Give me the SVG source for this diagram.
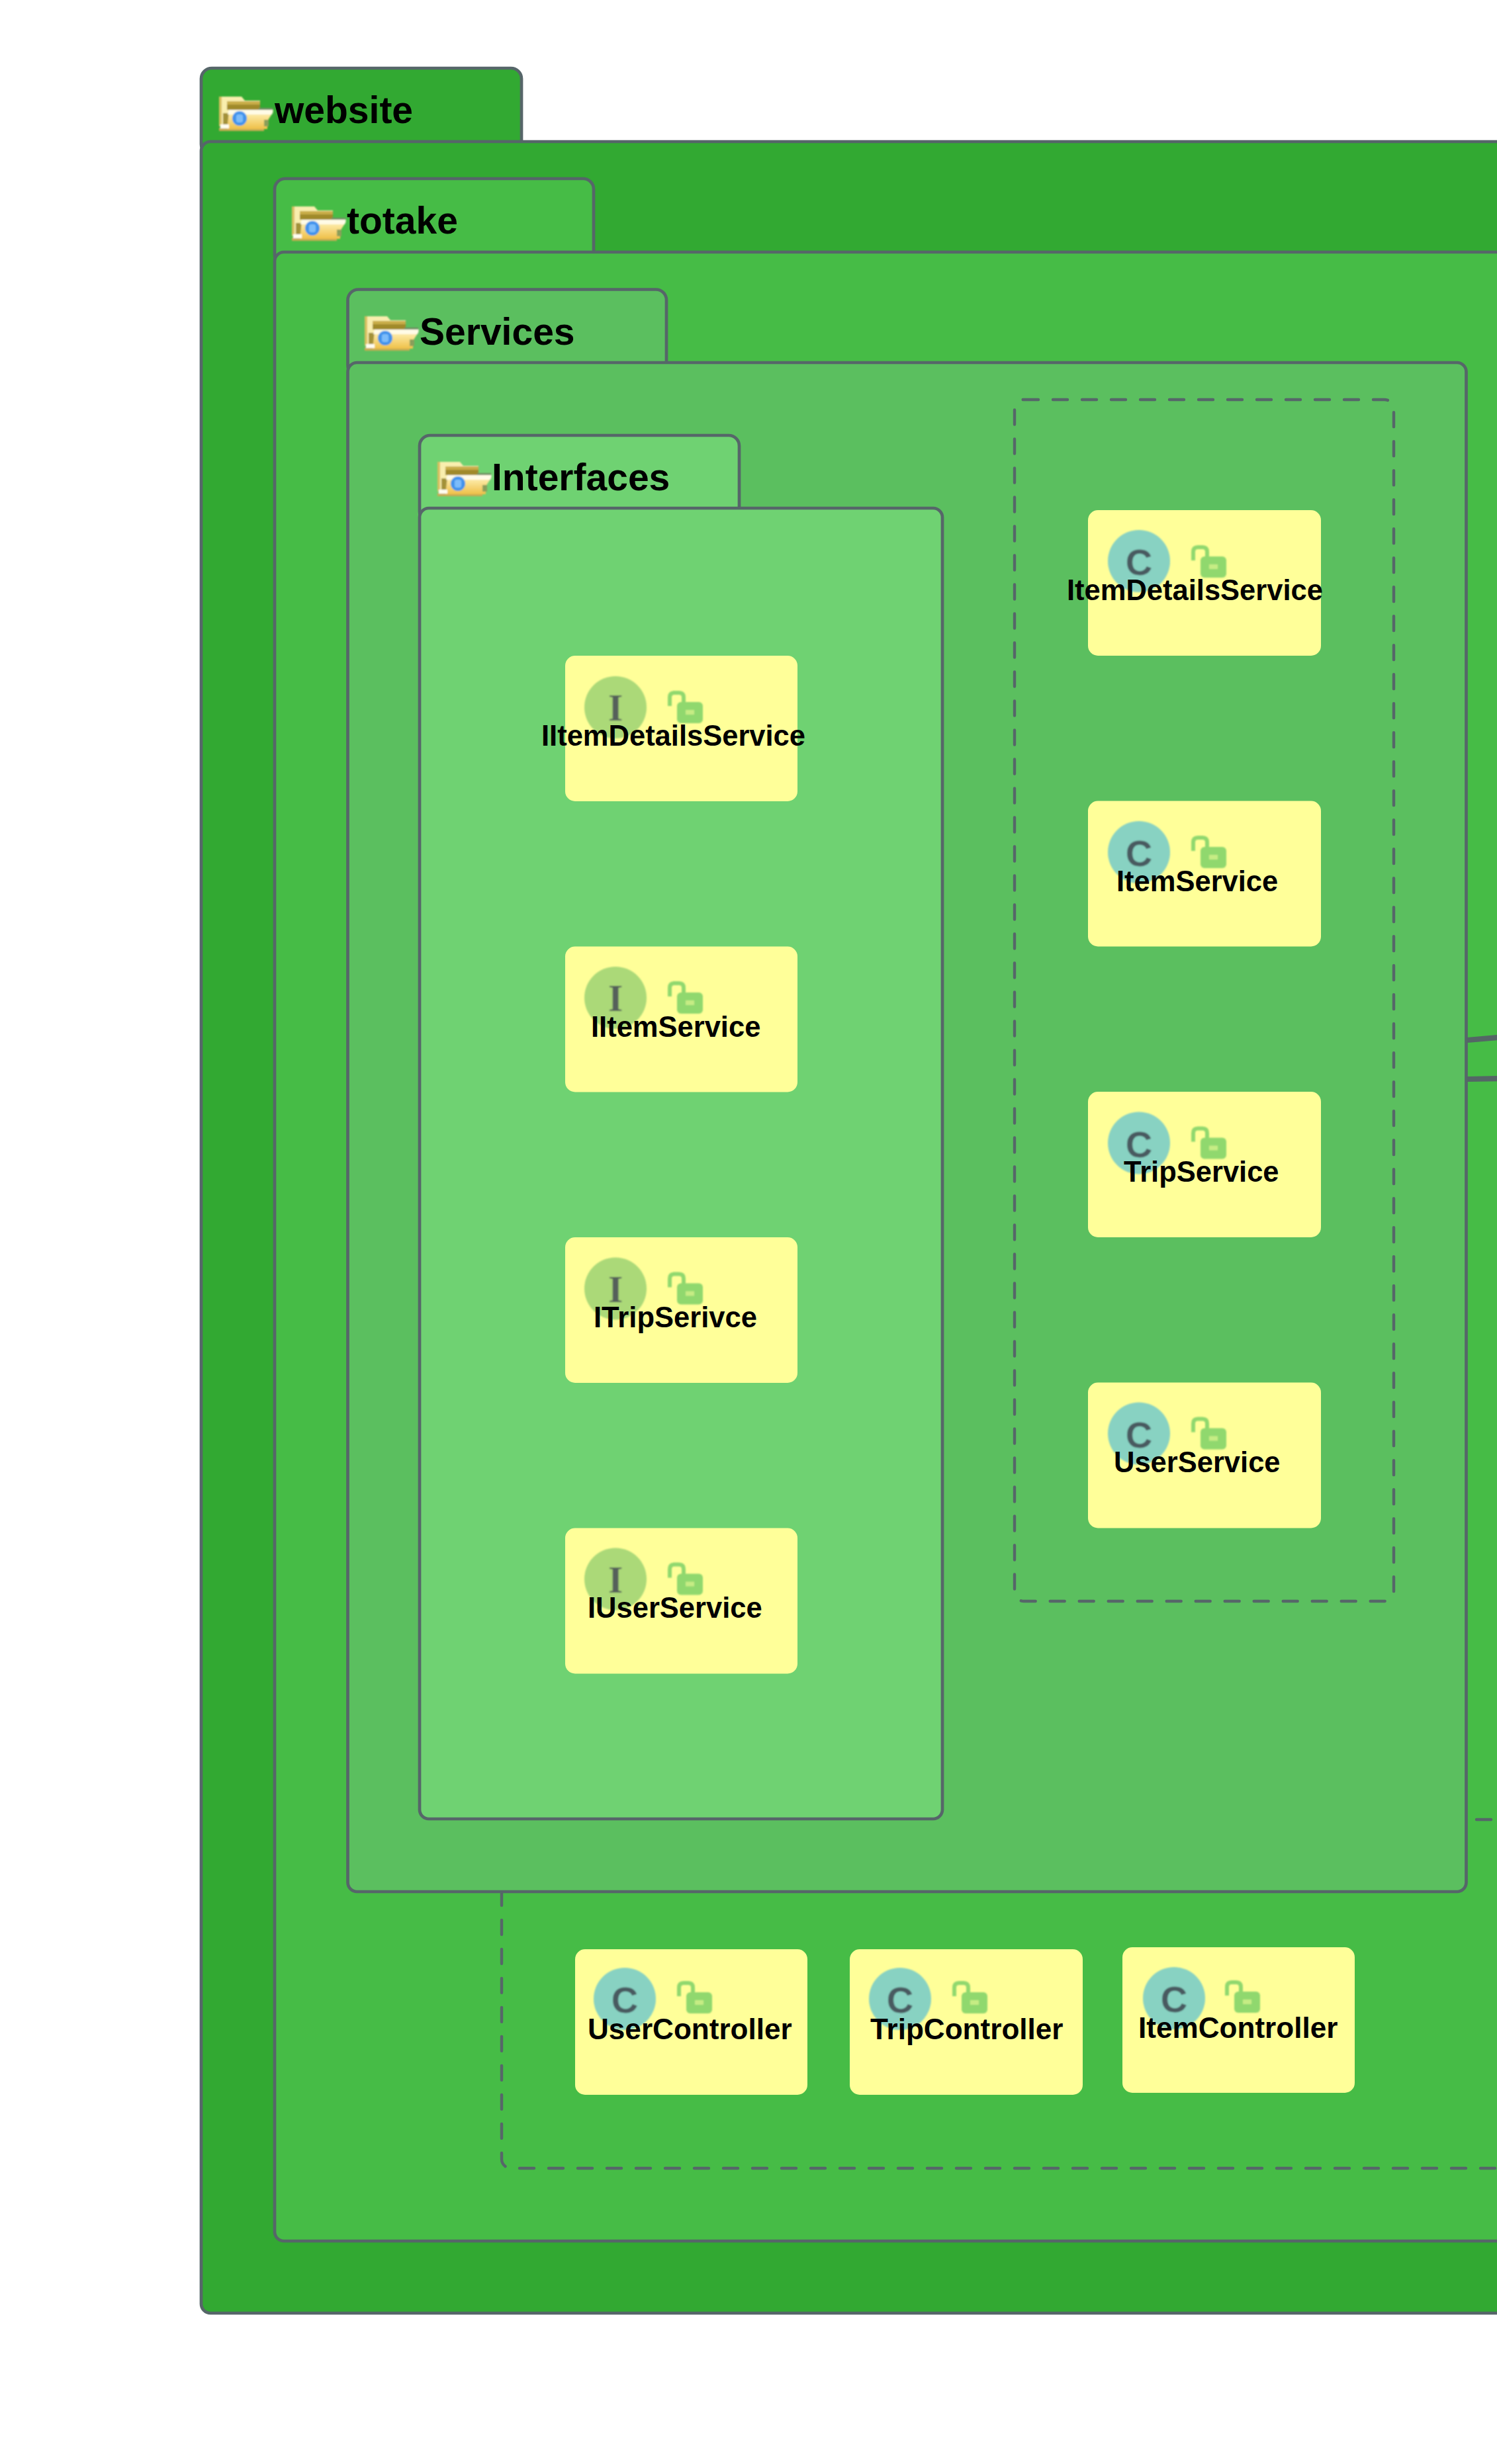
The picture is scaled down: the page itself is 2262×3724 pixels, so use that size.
<svg xmlns="http://www.w3.org/2000/svg" xmlns:xlink="http://www.w3.org/1999/xlink" width="2262" height="3724" viewBox="0 0 2262 3724">
<style>
.pk{stroke:#566669;stroke-width:4.7}
.web{fill:#32a932}.tot{fill:#46bc46}.svc{fill:#5bbf5f}.ifc{fill:#6fd272}
.dash{fill:none;stroke:#566669;stroke-width:4.4;stroke-dasharray:22 22;stroke-linecap:round}
.card{fill:#ffff99}
.circ-i{fill:#abd978}.circ-c{fill:#88d2c2}
.gl-i{font-family:"Liberation Serif",serif;font-weight:700;font-size:57px;fill:#55605a;text-anchor:middle}
.gl-c{font-family:"Liberation Sans",Arial,sans-serif;font-weight:700;font-size:56px;fill:#4a5a60;text-anchor:middle}
.lbl{font-family:"Liberation Sans",Arial,sans-serif;font-weight:700;font-size:43.5px;fill:#000}
.ctl{font-size:44.1px}
.pkl{font-family:"Liberation Sans",Arial,sans-serif;font-weight:700;font-size:57px;fill:#000}
.conn{fill:none;stroke:#546666;stroke-width:8.2}
</style>
<defs>
<filter id="soft" x="-10%" y="-10%" width="120%" height="120%"><feGaussianBlur stdDeviation="0.9"/></filter>
<linearGradient id="gold" x1="0" y1="0" x2="0" y2="1"><stop offset="0" stop-color="#fff2b8"/><stop offset="1" stop-color="#efc048"/></linearGradient>
<g id="folder" filter="url(#soft)">
<path d="M2,3H36L41,9H64V24H18V48H2Z" fill="#f9eeae"/>
<path d="M2,3H6V48H2Z" fill="#d8c060"/>
<rect x="14" y="10" width="50" height="5" fill="#c9ae4a"/>
<rect x="14" y="15" width="50" height="8" fill="#a08a2c"/>
<rect x="8" y="28" width="10" height="18" fill="#a39138"/>
<rect x="62" y="20" width="21" height="6" fill="#6f8f62"/>
<path d="M2,50H70V55H2Z" fill="#c8ab52"/>
<path d="M17,26H84L75,40V52H14Z" fill="url(#gold)"/>
<path d="M17,23H84L82,30H15Z" fill="#fffbe6"/>
<rect x="4" y="45" width="13" height="6" fill="#fffdf0"/>
<rect x="70" y="38" width="7" height="10" fill="#8a9e5a"/>
<circle cx="33" cy="36" r="11" fill="#3f93ec"/>
<rect x="28" y="30" width="10" height="12" rx="3" fill="#7cbcfa"/>
</g>
<g id="lock" filter="url(#soft)">
<path d="M0,22V9Q0,2 7,2H14Q21,2 21,9V18" fill="none" stroke="#90d86e" stroke-width="6"/>
<rect x="11" y="16" width="39" height="32" rx="6" fill="#90d86e"/>
<rect x="24" y="28" width="13" height="7" fill="#c6ec84"/>
</g>
</defs>

<g id="pkg-website">
<rect class="pk web" x="304" y="103" width="484" height="131" rx="16"/>
<rect class="pk web" x="304" y="214" width="2100" height="3282" rx="14"/>
<use href="#folder" x="329" y="143"/>
<text class="pkl" x="415" y="186">website</text>
</g>

<g id="pkg-totake">
<rect class="pk tot" x="415" y="270" width="482" height="131" rx="16"/>
<rect class="pk tot" x="415" y="381" width="1990" height="3006" rx="14"/>
<use href="#folder" x="439" y="309"/>
<text class="pkl" x="524" y="353">totake</text>
</g>

<g id="controllers-group">
<path class="dash" d="M2347,3277H772A14,14 0 0 1 758,3263V2790"/>
<path class="dash" d="M2231,2750H2253"/>
</g>

<g id="UserController">
<rect class="card" x="869" y="2946" width="351" height="220" rx="15"/>
<g filter="url(#soft)"><circle class="circ-c" cx="944" cy="3021" r="47"/><text class="gl-c" x="944" y="3042">C</text></g>
<use href="#lock" x="1026" y="2995"/>
<text class="lbl ctl" x="888" y="3082">UserController</text>
</g>
<g id="TripController">
<rect class="card" x="1284" y="2946" width="352" height="220" rx="15"/>
<g filter="url(#soft)"><circle class="circ-c" cx="1360" cy="3021" r="47"/><text class="gl-c" x="1360" y="3042">C</text></g>
<use href="#lock" x="1442" y="2995"/>
<text class="lbl ctl" x="1315" y="3082">TripController</text>
</g>
<g id="ItemController">
<rect class="card" x="1696" y="2943" width="351" height="220" rx="15"/>
<g filter="url(#soft)"><circle class="circ-c" cx="1774" cy="3020" r="47"/><text class="gl-c" x="1774" y="3041">C</text></g>
<use href="#lock" x="1854" y="2994"/>
<text class="lbl ctl" x="1720" y="3080">ItemController</text>
</g>

<g id="pkg-services">
<rect class="pk svc" x="525.5" y="437.5" width="481.5" height="131" rx="16"/>
<rect class="pk svc" x="525.5" y="548" width="1690" height="2311" rx="14"/>
<use href="#folder" x="549" y="475"/>
<text class="pkl" x="634" y="521">Services</text>
</g>

<g id="pkg-interfaces">
<rect class="pk ifc" x="634" y="658" width="483" height="131" rx="16"/>
<rect class="pk ifc" x="634" y="768" width="790" height="1981" rx="14"/>
<use href="#folder" x="659" y="695"/>
<text class="pkl" x="743" y="741">Interfaces</text>
</g>

<g id="IItemDetailsService">
<rect class="card" x="854" y="991" width="351" height="220" rx="15"/>
<g filter="url(#soft)"><circle class="circ-i" cx="930" cy="1069" r="47"/><text class="gl-i" x="930" y="1089">I</text></g>
<use href="#lock" x="1012" y="1045"/>
<text class="lbl" x="818" y="1127">IItemDetailsService</text>
</g>
<g id="IItemService">
<rect class="card" x="854" y="1430.5" width="351" height="220" rx="15"/>
<g filter="url(#soft)"><circle class="circ-i" cx="930" cy="1508" r="47"/><text class="gl-i" x="930" y="1528">I</text></g>
<use href="#lock" x="1012" y="1484"/>
<text class="lbl" x="893" y="1566.5">IItemService</text>
</g>
<g id="ITripSerivce">
<rect class="card" x="854" y="1870" width="351" height="220" rx="15"/>
<g filter="url(#soft)"><circle class="circ-i" cx="930" cy="1947.5" r="47"/><text class="gl-i" x="930" y="1967.5">I</text></g>
<use href="#lock" x="1012" y="1923.5"/>
<text class="lbl" x="897" y="2006" textLength="247" lengthAdjust="spacing">ITripSerivce</text>
</g>
<g id="IUserService">
<rect class="card" x="854" y="2309.5" width="351" height="220" rx="15"/>
<g filter="url(#soft)"><circle class="circ-i" cx="930" cy="2386.5" r="47"/><text class="gl-i" x="930" y="2406.5">I</text></g>
<use href="#lock" x="1012" y="2362.5"/>
<text class="lbl" x="888" y="2445">IUserService</text>
</g>

<g id="services-group">
<rect class="dash" x="1533" y="604" width="573" height="1816" rx="14"/>
</g>

<g id="ItemDetailsService">
<rect class="card" x="1644" y="771" width="352" height="220" rx="15"/>
<g filter="url(#soft)"><circle class="circ-c" cx="1721" cy="848" r="47"/><text class="gl-c" x="1721" y="869">C</text></g>
<use href="#lock" x="1803" y="825"/>
<text class="lbl" x="1612" y="907">ItemDetailsService</text>
</g>
<g id="ItemService">
<rect class="card" x="1644" y="1210.5" width="352" height="220" rx="15"/>
<g filter="url(#soft)"><circle class="circ-c" cx="1721" cy="1288" r="47"/><text class="gl-c" x="1721" y="1309">C</text></g>
<use href="#lock" x="1803" y="1264"/>
<text class="lbl" x="1687" y="1347">ItemService</text>
</g>
<g id="TripService">
<rect class="card" x="1644" y="1650" width="352" height="220" rx="15"/>
<g filter="url(#soft)"><circle class="circ-c" cx="1721" cy="1727.5" r="47"/><text class="gl-c" x="1721" y="1748.5">C</text></g>
<use href="#lock" x="1803" y="1703.5"/>
<text class="lbl" x="1698" y="1786">TripService</text>
</g>
<g id="UserService">
<rect class="card" x="1644" y="2089.5" width="352" height="220" rx="15"/>
<g filter="url(#soft)"><circle class="circ-c" cx="1721" cy="2166.5" r="47"/><text class="gl-c" x="1721" y="2187.5">C</text></g>
<use href="#lock" x="1803" y="2142.5"/>
<text class="lbl" x="1683" y="2225">UserService</text>
</g>

<g id="connectors">
<path class="conn" d="M2217,1572L2275,1567"/>
<path class="conn" d="M2217,1631L2275,1630"/>
</g>
</svg>
